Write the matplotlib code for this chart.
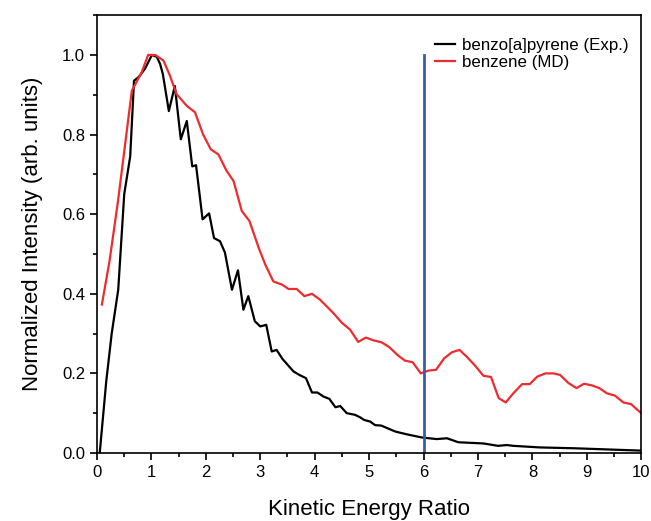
import matplotlib
matplotlib.use('Agg')
import matplotlib.pyplot as plt
from matplotlib.ticker import MultipleLocator

plt.rcParams['font.family'] = ['Liberation Sans', 'DejaVu Sans']

# benzo[a]pyrene (Exp.)
bap_x = [0.05, 0.17, 0.27, 0.39, 0.50, 0.61, 0.68, 0.77, 0.88, 1.01, 1.10, 1.16, 1.21,
         1.32, 1.43, 1.54, 1.65, 1.75, 1.82, 1.94, 2.06, 2.15, 2.26, 2.35, 2.48, 2.59,
         2.69, 2.78, 2.90, 3.00, 3.11, 3.21, 3.30, 3.41, 3.61, 3.72, 3.84, 3.95, 4.05,
         4.16, 4.27, 4.38, 4.47, 4.59, 4.74, 4.83, 4.91, 5.02, 5.11, 5.22, 5.48, 5.69,
         5.97, 6.24, 6.43, 6.64, 7.10, 7.37, 7.53, 7.65, 8.14, 8.75, 9.37, 10.0]
bap_y = [0.0, 0.18, 0.30, 0.41, 0.65, 0.745, 0.935, 0.945, 0.965, 1.0, 0.995, 0.977, 0.952,
         0.859, 0.922, 0.788, 0.834, 0.72, 0.723, 0.587, 0.602, 0.54, 0.532, 0.504, 0.41, 0.459,
         0.36, 0.394, 0.331, 0.318, 0.322, 0.255, 0.259, 0.236, 0.205, 0.196, 0.188, 0.152, 0.152,
         0.142, 0.136, 0.115, 0.118, 0.10, 0.096, 0.09, 0.083, 0.079, 0.070, 0.069, 0.054, 0.047,
         0.039, 0.035, 0.037, 0.027, 0.024, 0.018, 0.020, 0.018, 0.014, 0.012, 0.009, 0.006]

# benzene (MD)
bz_x = [0.09, 0.23, 0.39, 0.64, 0.82, 0.94, 1.07, 1.22, 1.34, 1.46, 1.65, 1.80, 1.95,
        2.09, 2.23, 2.38, 2.51, 2.66, 2.80, 2.97, 3.09, 3.24, 3.40, 3.52, 3.67, 3.81,
        3.95, 4.10, 4.34, 4.50, 4.65, 4.80, 4.94, 5.08, 5.23, 5.37, 5.54, 5.66, 5.80,
        5.95, 6.09, 6.23, 6.38, 6.52, 6.66, 6.80, 6.95, 7.10, 7.24, 7.38, 7.51, 7.65,
        7.81, 7.95, 8.09, 8.24, 8.39, 8.51, 8.66, 8.81, 8.95, 9.09, 9.23, 9.37, 9.52,
        9.67, 9.81, 10.0]
bz_y = [0.373, 0.482, 0.637, 0.91, 0.956, 1.0, 1.0, 0.986, 0.948, 0.902, 0.872, 0.856, 0.80,
        0.763, 0.75, 0.709, 0.683, 0.608, 0.583, 0.516, 0.474, 0.431, 0.423, 0.412, 0.412, 0.394,
        0.40, 0.385, 0.352, 0.327, 0.31, 0.279, 0.29, 0.283, 0.278, 0.266, 0.244, 0.232, 0.228,
        0.20, 0.207, 0.209, 0.238, 0.253, 0.259, 0.241, 0.219, 0.194, 0.191, 0.138, 0.127, 0.15,
        0.173, 0.173, 0.192, 0.20, 0.20, 0.196, 0.176, 0.163, 0.174, 0.17, 0.163, 0.15, 0.144,
        0.127, 0.123, 0.10]

cut_x = 6.0
cut_top = 1.0

fig = plt.figure(figsize=(6.51, 5.21), dpi=100)
ax = fig.add_axes([0.149, 0.1305, 0.836, 0.8405])

ax.plot(bap_x, bap_y, color='black', lw=1.6, label='benzo[a]pyrene (Exp.)')
ax.plot(bz_x, bz_y, color='#ee2b2f', lw=1.6, label='benzene (MD)')
ax.plot([cut_x, cut_x], [0, cut_top], color='#3c5aad', lw=2.0)

ax.set_xlim(0, 10)
ax.set_ylim(0, 1.1)
ax.xaxis.set_major_locator(MultipleLocator(1))
ax.xaxis.set_minor_locator(MultipleLocator(0.5))
ax.yaxis.set_major_locator(MultipleLocator(0.2))
ax.yaxis.set_minor_locator(MultipleLocator(0.1))
ax.yaxis.set_major_formatter(matplotlib.ticker.FormatStrFormatter('%.1f'))
ax.tick_params(which='both', direction='out', top=False, right=False, width=1.2, labelsize=12)
ax.tick_params(which='major', length=5)
ax.tick_params(which='minor', length=3)
for s in ax.spines.values():
    s.set_linewidth(1.2)

ax.set_xlabel('Kinetic Energy Ratio', fontsize=16, labelpad=14)
ax.set_ylabel('Normalized Intensity (arb. units)', fontsize=16, labelpad=14)

ax.legend(loc='upper right', bbox_to_anchor=(0.995, 0.97), frameon=False, fontsize=12.2,
          handlelength=1.2, handletextpad=0.4, labelspacing=0.1, borderaxespad=0.2)

fig.savefig('out.png', dpi=100)
